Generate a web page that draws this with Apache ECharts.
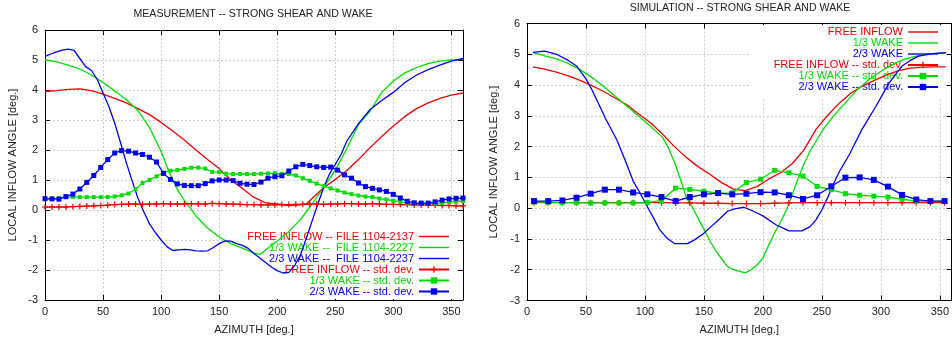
<!DOCTYPE html>
<html><head><meta charset="utf-8">
<script src="https://cdn.jsdelivr.net/npm/echarts@6/dist/echarts.min.js"></script>
<style>html,body{margin:0;padding:0;background:#fff}#c{width:952px;height:342px}</style>
</head><body><div id="c"></div>
<script>
// ---------- MEASUREMENT (left panel) ----------
const measFreeAz = [0,10,20,30,40,50,60,70,80,90,100,110,120,130,140,150,160,170,180,190,200,210,220,225,230,240,250,260,270,280,290,300,310,320,330,340,350,360];
const measFree   = [3.95,3.98,4.02,4.04,3.98,3.86,3.72,3.57,3.38,3.18,2.92,2.63,2.33,2.0,1.68,1.38,1.0,0.72,0.42,0.24,0.2,0.15,0.17,0.2,0.38,0.74,1.02,1.32,1.68,2.08,2.45,2.8,3.12,3.38,3.57,3.72,3.83,3.9];

const measWake13Az = [0,10,20,30,40,50,60,70,80,90,95,100,105,110,115,120,125,130,140,150,160,170,180,185,190,200,210,220,230,240,250,260,270,280,290,300,310,320,330,340,350,360];
const measWake13   = [5.0,4.94,4.83,4.7,4.5,4.25,3.97,3.68,3.32,2.75,2.35,1.95,1.45,1.0,0.62,0.32,0.08,-0.2,-0.6,-0.9,-1.12,-1.27,-1.44,-1.48,-1.33,-1.03,-0.72,-0.32,0.2,0.75,1.33,2.05,2.85,3.3,3.92,4.3,4.57,4.75,4.88,4.96,5.0,5.02];

const measWake23Az = [0,5,10,15,20,25,30,35,40,45,50,55,60,65,70,75,80,85,90,95,100,105,110,115,120,125,130,135,140,145,150,155,160,165,170,175,180,185,190,195,200,205,210,215,220,225,230,235,240,245,250,255,260,270,280,290,300,310,320,330,340,350,360];
const measWake23   = [5.12,5.2,5.27,5.33,5.36,5.32,5.05,4.78,4.65,4.35,3.9,3.45,2.9,2.25,1.58,0.98,0.4,-0.05,-0.46,-0.75,-1.0,-1.22,-1.35,-1.33,-1.31,-1.33,-1.36,-1.37,-1.36,-1.25,-1.12,-1.03,-1.04,-1.12,-1.18,-1.28,-1.45,-1.6,-1.75,-1.9,-2.02,-2.1,-2.08,-1.85,-1.5,-0.95,-0.37,0.2,0.75,1.2,1.52,1.85,2.3,2.88,3.35,3.65,3.92,4.25,4.5,4.68,4.83,4.96,5.05];

const measStdAz = [0,6,12,18,24,30,36,42,48,54,60,66,72,78,84,90,96,102,108,114,120,126,132,138,144,150,156,162,168,174,180,186,192,198,204,210,216,222,228,234,240,246,252,258,264,270,276,282,288,294,300,306,312,318,324,330,336,342,348,354,360];
const measStdFree = [0.1,0.1,0.1,0.1,0.11,0.12,0.13,0.14,0.15,0.16,
  0.18,0.19,0.2,0.2,0.19,0.2,0.2,0.21,0.2,0.2,
  0.2,0.21,0.2,0.2,0.22,0.21,0.2,0.2,0.19,0.18,
  0.18,0.17,0.17,0.17,0.18,0.18,0.19,0.19,0.2,0.2,
  0.19,0.2,0.2,0.21,0.21,0.2,0.2,0.21,0.2,0.19,
  0.19,0.18,0.18,0.17,0.17,0.16,0.16,0.15,0.15,0.14,0.14];
const measStdWake13 = [0.36,0.38,0.4,0.42,0.43,0.43,0.43,0.43,0.43,0.43,
  0.45,0.49,0.55,0.69,0.9,1.0,1.12,1.25,1.31,1.33,
  1.37,1.41,1.41,1.38,1.27,1.26,1.21,1.2,1.2,1.2,
  1.2,1.21,1.22,1.22,1.2,1.2,1.15,1.06,0.97,0.88,
  0.8,0.72,0.65,0.58,0.53,0.48,0.45,0.43,0.38,0.35,
  0.31,0.27,0.24,0.22,0.21,0.21,0.22,0.24,0.26,0.28,0.3];
const measStdWake23 = [0.38,0.37,0.36,0.45,0.53,0.7,0.92,1.15,1.42,1.68,
  1.9,1.98,1.96,1.9,1.85,1.76,1.6,1.22,1.02,0.87,
  0.82,0.81,0.81,0.88,0.97,1.0,1.0,0.98,0.89,0.86,
  0.85,0.93,1.06,1.11,1.14,1.3,1.44,1.52,1.48,1.44,
  1.42,1.43,1.33,1.17,1.06,0.9,0.78,0.72,0.67,0.62,
  0.52,0.4,0.29,0.24,0.23,0.23,0.27,0.33,0.37,0.39,0.4];

// ---------- SIMULATION (right panel) ----------
const simFreeAz = [5,15,25,35,45,55,65,75,85,95,105,115,125,135,145,155,165,175,185,195,205,215,225,235,245,255,265,275,285,295,305,315,325,335,345,355];
const simFree   = [4.59,4.52,4.42,4.3,4.15,3.98,3.79,3.57,3.35,3.05,2.77,2.4,2.0,1.65,1.35,1.1,0.83,0.62,0.57,0.7,0.95,1.15,1.45,1.9,2.56,3.02,3.42,3.75,3.98,4.16,4.33,4.47,4.55,4.58,4.59,4.59];

const simWake13Az = [5,15,25,35,45,55,65,75,85,95,105,115,120,125,130,135,140,145,150,155,160,165,170,175,185,190,195,200,205,210,215,220,225,230,235,240,250,260,270,280,290,300,310,320,330,340,350,355];
const simWake13   = [5.05,4.95,4.85,4.7,4.5,4.25,3.95,3.63,3.3,2.98,2.65,2.3,1.95,1.5,0.95,0.35,0.05,-0.33,-0.68,-1.05,-1.39,-1.65,-1.9,-2.0,-2.1,-2.0,-1.85,-1.62,-1.2,-0.8,-0.45,-0.05,0.45,0.98,1.45,1.85,2.5,3.0,3.43,3.85,4.18,4.45,4.67,4.84,4.94,5.0,5.04,5.05];

const simWake23Az = [5,15,25,35,42,50,55,60,67,76,83,90,95,101,107,112,118,125,136,142,149,156,163,170,176,184,192,200,211,222,233,240,245,250,255,260,265,273,284,296,307,318,325,332,340,346,355];
const simWake23   = [5.06,5.1,5.0,4.8,4.62,4.2,3.85,3.45,2.88,2.23,1.58,0.88,0.55,0.12,-0.3,-0.67,-0.95,-1.15,-1.15,-1.03,-0.85,-0.6,-0.36,-0.1,-0.02,0.03,-0.1,-0.25,-0.54,-0.74,-0.74,-0.6,-0.38,-0.05,0.35,0.8,1.2,1.72,2.56,3.32,4.07,4.62,4.8,4.94,5.0,5.03,5.05];

const simStdAz = [6,18,30,42,54,66,78,90,102,114,126,138,150,162,174,186,198,210,222,234,246,258,270,282,294,306,318,330,342,354];
const simStdFree   = [0.18,0.18,0.18,0.18,0.18,0.18,0.18,0.18,0.18,0.18,0.17,0.17,0.16,0.16,0.15,0.15,0.15,0.16,0.17,0.18,0.18,0.18,0.18,0.18,0.18,0.18,0.18,0.18,0.18,0.18];
const simStdWake13 = [0.2,0.19,0.18,0.18,0.17,0.17,0.17,0.17,0.18,0.25,0.65,0.61,0.55,0.49,0.5,0.83,0.94,1.23,1.15,1.04,0.71,0.6,0.47,0.42,0.39,0.36,0.29,0.23,0.23,0.23];
const simStdWake23 = [0.23,0.23,0.25,0.34,0.47,0.6,0.6,0.51,0.45,0.36,0.23,0.36,0.45,0.49,0.45,0.47,0.52,0.51,0.42,0.3,0.42,0.71,0.99,1.0,0.92,0.7,0.43,0.28,0.23,0.23];

// ---------- labels ----------
const titles = ['MEASUREMENT -- STRONG SHEAR AND WAKE', 'SIMULATION -- STRONG SHEAR AND WAKE'];
const xName = 'AZIMUTH [deg.]';
const yName = 'LOCAL INFLOW ANGLE [deg.]';
const measNames = ['FREE INFLOW -- FILE 1104-2137', '1/3 WAKE --  FILE 1104-2227', '2/3 WAKE --  FILE 1104-2237',
                   'FREE INFLOW -- std. dev.', '1/3 WAKE -- std. dev.', '2/3 WAKE -- std. dev.'];
const simNames  = ['FREE INFLOW', '1/3 WAKE', '2/3 WAKE',
                   'FREE INFLOW -- std. dev.', '1/3 WAKE -- std. dev.', '2/3 WAKE -- std. dev.'];

const FONT = '"Liberation Sans", Arial, Helvetica, sans-serif';
const RED = '#f20000', GREEN = '#00dc00', BLUE = '#0000f0';
const COLORS = [RED, GREEN, BLUE, RED, GREEN, BLUE];
const PLUS = 'path://M4,0h2v4h4v2h-4v4h-2v-4h-4v-2h4z';
const LINEICON = 'path://M0,0H30V1.4H0Z';

function pts(az, v) { return az.map((a, i) => [a, v[i]]); }

function xAx(grid, pos, main) {
  return {
    type: 'value', gridIndex: grid, position: pos, min: 0, max: 360, interval: 50,
    axisLine: { show: true, onZero: false, lineStyle: { color: '#000', width: 1 } },
    axisTick: { show: true, inside: true, length: 5, lineStyle: { color: '#000' } },
    axisLabel: { show: main, showMaxLabel: false, color: '#222', fontSize: 11, fontFamily: FONT, margin: 6 },
    splitLine: { show: main, lineStyle: { color: '#cdcdcd', type: [2, 2], width: 1 } },
    name: main ? xName : '', nameLocation: 'middle', nameGap: 24,
    nameTextStyle: { color: '#222', fontSize: 11, fontFamily: FONT }
  };
}
function yAx(grid, pos, main, gap) {
  return {
    type: 'value', gridIndex: grid, position: pos, min: -3, max: 6, interval: 1,
    axisLine: { show: true, onZero: false, lineStyle: { color: '#000', width: 1 } },
    axisTick: { show: true, inside: true, length: 5, lineStyle: { color: '#000' } },
    axisLabel: { show: main, color: '#222', fontSize: 11, fontFamily: FONT, margin: 7 },
    splitLine: { show: main, lineStyle: { color: '#cdcdcd', type: [2, 2], width: 1 } },
    name: main ? yName : '', nameLocation: 'middle', nameRotate: 90, nameGap: gap,
    nameTextStyle: { color: '#222', fontSize: 11, fontFamily: FONT }
  };
}

function lineS(name, xi, yi, az, vals, color) {
  return { type: 'line', name, xAxisIndex: xi, yAxisIndex: yi, data: pts(az, vals),
    symbol: 'none', lineStyle: { color, width: 1.3 }, itemStyle: { color },
    silent: true, animation: false };
}
function stdS(name, xi, yi, az, vals, color, sym, size) {
  return { type: 'line', name, xAxisIndex: xi, yAxisIndex: yi, data: pts(az, vals),
    symbol: sym, symbolSize: size, showSymbol: true, lineStyle: { color, width: 1.3 },
    itemStyle: { color }, silent: true, animation: false };
}

function legendData(names) {
  return names.map((n, i) => i < 3
    ? { name: n, icon: LINEICON, textStyle: { color: COLORS[i] } }
    : { name: n, textStyle: { color: COLORS[i] } });
}

const chart = echarts.init(document.getElementById('c'), null, { renderer: 'canvas' });
chart.setOption({
  backgroundColor: '#fff',
  animation: false,
  title: [
    { text: titles[0], left: 253, top: 9, textAlign: 'center', padding: 0,
      textStyle: { fontSize: 10.6, fontWeight: 'normal', color: '#222', fontFamily: FONT } },
    { text: titles[1], left: 740, top: 3, textAlign: 'center', padding: 0,
      textStyle: { fontSize: 10.6, fontWeight: 'normal', color: '#222', fontFamily: FONT } }
  ],
  grid: [
    { left: 45, top: 30, width: 418, height: 270 },
    { left: 527, top: 23.5, width: 426, height: 277 }
  ],
  xAxis: [xAx(0, 'bottom', true), xAx(0, 'top', false), xAx(1, 'bottom', true), xAx(1, 'top', false)],
  yAxis: [yAx(0, 'left', true, 27), yAx(0, 'right', false, 0), yAx(1, 'left', true, 28), yAx(1, 'right', false, 0)],
  legend: [
    { orient: 'vertical', align: 'right', right: 495, bottom: 43, padding: [15, 7, 2, 23],
      backgroundColor: '#fff', z: 1, itemWidth: 30, itemHeight: 8, itemGap: 0, selectedMode: false,
      textStyle: { fontSize: 11, fontFamily: FONT, lineHeight: 10.8 },
      data: legendData(measNames) },
    { orient: 'vertical', align: 'right', right: 7, top: 25, padding: [1.5, 6, 6, 24],
      backgroundColor: '#fff', z: 1, itemWidth: 30, itemHeight: 8, itemGap: 0, selectedMode: false,
      textStyle: { fontSize: 11, fontFamily: FONT, lineHeight: 10.8 },
      data: legendData(simNames) }
  ],
  series: [
    lineS(measNames[0], 0, 0, measFreeAz, measFree, RED),
    lineS(measNames[1], 0, 0, measWake13Az, measWake13, GREEN),
    lineS(measNames[2], 0, 0, measWake23Az, measWake23, BLUE),
    stdS(measNames[3], 0, 0, measStdAz, measStdFree, RED, PLUS, 6),
    stdS(measNames[4], 0, 0, measStdAz, measStdWake13, GREEN, 'rect', 4),
    stdS(measNames[5], 0, 0, measStdAz, measStdWake23, BLUE, 'rect', 5),
    lineS(simNames[0], 2, 2, simFreeAz, simFree, RED),
    lineS(simNames[1], 2, 2, simWake13Az, simWake13, GREEN),
    lineS(simNames[2], 2, 2, simWake23Az, simWake23, BLUE),
    stdS(simNames[3], 2, 2, simStdAz, simStdFree, RED, PLUS, 6),
    stdS(simNames[4], 2, 2, simStdAz, simStdWake13, GREEN, 'rect', 5),
    stdS(simNames[5], 2, 2, simStdAz, simStdWake23, BLUE, 'rect', 6)
  ]
});
</script></body></html>
